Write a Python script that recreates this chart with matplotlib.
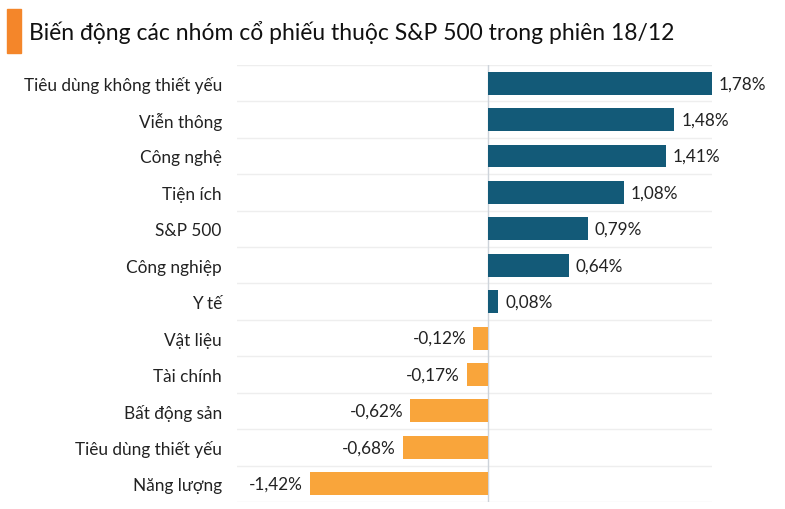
import matplotlib.pyplot as plt
import matplotlib.patches as mpatches

plt.rcParams['font.family'] = ['Lato', 'DejaVu Sans']

categories = ["Tiêu dùng không thiết yếu", "Viễn thông", "Công nghệ", "Tiện ích",
              "S&P 500", "Công nghiệp", "Y tế", "Vật liệu", "Tài chính",
              "Bất động sản", "Tiêu dùng thiết yếu", "Năng lượng"]
values = [1.78, 1.48, 1.41, 1.08, 0.79, 0.64, 0.08, -0.12, -0.17, -0.62, -0.68, -1.42]
title = "Biến động các nhóm cổ phiếu thuộc S&P 500 trong phiên 18/12"

POS = '#135a78'
NEG = '#f9a53b'

fig = plt.figure(figsize=(7.85, 5.10), dpi=100)
ax = fig.add_axes([0.302, 0.0137, 0.605, 0.857])

n = len(categories)
ys = list(range(n))
colors = [POS if v >= 0 else NEG for v in values]
ax.barh(ys, values, height=0.63, color=colors, zorder=3)

for y, v in zip(ys, values):
    txt = f"{v:.2f}%".replace('.', ',')
    if v >= 0:
        ax.annotate(txt, (v, y), xytext=(5, 0), textcoords='offset points',
                    ha='left', va='center', fontsize=12.3, color='#222222', annotation_clip=False)
    else:
        ax.annotate(txt, (v, y), xytext=(-5, 0), textcoords='offset points',
                    ha='right', va='center', fontsize=12.3, color='#222222', annotation_clip=False)

ax.set_xlim(-2.0, 1.78)
ax.set_ylim(n - 0.5, -0.5)
ax.set_yticks(ys)
ax.set_yticklabels(categories, fontsize=12.4, color='#222222')
ax.tick_params(axis='y', length=0, pad=11)
ax.set_xticks([])

# faint separators between rows
for k in range(n + 1):
    ax.axhline(k - 0.5, color='#eeeeee', lw=1, zorder=1)
ax.axvline(0, color='#cdd3da', lw=1, zorder=2)

for s in ax.spines.values():
    s.set_visible(False)

# title with orange marker
fig.patches.append(mpatches.Rectangle((7 / 785, 1 - 54 / 510), 14 / 785, 44 / 510,
                                      transform=fig.transFigure, color='#f4862a'))
fig.text(29 / 785, 1 - 33 / 510, title, fontsize=16.5, va='center', ha='left', color='#111111')

plt.savefig('out.png', dpi=100)
